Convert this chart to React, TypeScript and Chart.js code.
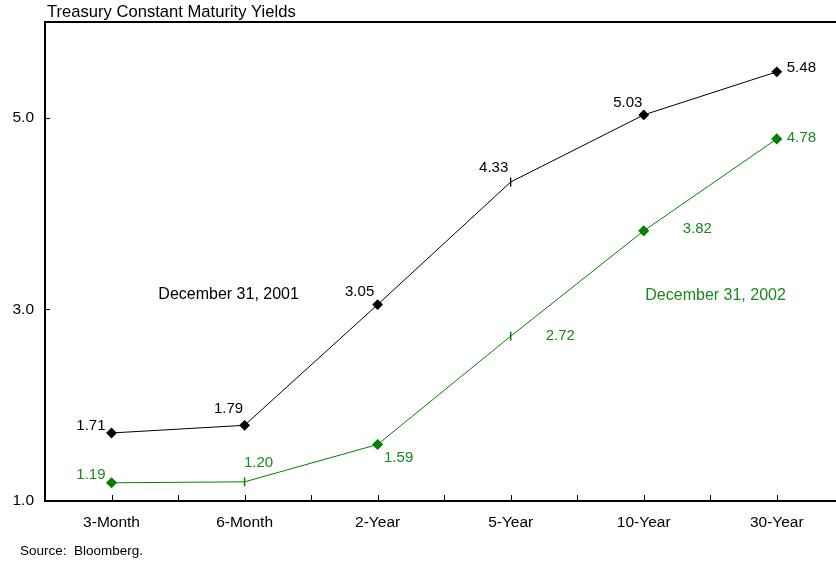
import React, { useEffect, useRef } from 'react';
import { Chart, registerables } from 'chart.js';

Chart.register(...registerables);

// ---------- data ----------
const categories = ['3-Month', '6-Month', '2-Year', '5-Year', '10-Year', '30-Year'];
const yields2001 = [1.71, 1.79, 3.05, 4.33, 5.03, 5.48];
const yields2002 = [1.19, 1.2, 1.59, 2.72, 3.82, 4.78];
const yTickValues = [1, 3, 5];
const seriesNames = ['December 31, 2001', 'December 31, 2002'];
const chartTitle = 'Treasury Constant Maturity Yields';
const sourceNote = 'Source:  Bloomberg.';

// ---------- styles ----------
const BLACK = '#000000';
const GREEN = '#008000';
const GREEN_TEXT = '#178a17';
const FONT = '"Liberation Sans", Arial, Helvetica, sans-serif';
const markers2001 = ['rectRot', 'rectRot', 'rectRot', 'line', 'rectRot', 'rectRot'];
const markers2002 = ['rectRot', 'line', 'rectRot', 'line', 'rectRot', 'rectRot'];
// label placement relative to its point: [dx, dy, align]
const labelPos2001: [number, number, CanvasTextAlign][] = [
  [-6, -7, 'right'], [-16, -16, 'center'], [-18, -13, 'center'],
  [-17, -14, 'center'], [-16, -12, 'center'], [10, -4, 'left'],
];
const labelPos2002: [number, number, CanvasTextAlign][] = [
  [-6, -8, 'right'], [14, -19, 'center'], [21, 13, 'center'],
  [35, 0, 'left'], [39, -2, 'left'], [10, -1, 'left'],
];
// series name anchors in data coordinates
const nameAnchorX = [0.88, 4.54];
const nameAnchorY = [3.15, 3.14];

const seriesValues = [yields2001, yields2002];

const decor = {
  id: 'decor',
  afterDatasetsDraw(chart: any) {
    const ctx = chart.ctx;
    ctx.save();
    ctx.font = `15px ${FONT}`;
    ctx.textBaseline = 'middle';
    const sets = [
      { pos: labelPos2001, color: BLACK },
      { pos: labelPos2002, color: GREEN_TEXT },
    ];
    sets.forEach((s, di) => {
      const meta = chart.getDatasetMeta(di);
      const vals = seriesValues[di];
      meta.data.forEach((pt: any, i: number) => {
        const [dx, dy, al] = s.pos[i];
        ctx.fillStyle = s.color;
        ctx.textAlign = al;
        ctx.fillText(vals[i].toFixed(2), pt.x + dx, pt.y + dy);
      });
    });
    // series names
    ctx.font = `16px ${FONT}`;
    ctx.textAlign = 'center';
    [BLACK, GREEN_TEXT].forEach((c, i) => {
      ctx.fillStyle = c;
      ctx.fillText(
        seriesNames[i],
        chart.scales.x.getPixelForValue(nameAnchorX[i]),
        chart.scales.y.getPixelForValue(nameAnchorY[i])
      );
    });
    ctx.restore();
  },
  afterDraw(chart: any) {
    const { ctx, chartArea: a, scales } = chart;
    ctx.save();
    ctx.strokeStyle = BLACK;
    ctx.lineWidth = 2;
    ctx.beginPath();
    ctx.moveTo(chart.width + 2, a.top);
    ctx.lineTo(a.left, a.top);
    ctx.lineTo(a.left, a.bottom);
    ctx.lineTo(chart.width + 2, a.bottom);
    ctx.stroke();
    ctx.lineWidth = 1;
    ctx.beginPath();
    for (let i = 0; i < categories.length * 2; i++) {
      const px = Math.round(scales.x.getPixelForValue(i / 2)) + 0.5;
      ctx.moveTo(px, a.bottom);
      ctx.lineTo(px, a.bottom - 6);
    }
    yTickValues.forEach((v) => {
      const py = Math.round(scales.y.getPixelForValue(v)) + 0.5;
      ctx.moveTo(a.left, py);
      ctx.lineTo(a.left + 5, py);
    });
    ctx.stroke();
    // title and source
    ctx.fillStyle = BLACK;
    ctx.textBaseline = 'middle';
    ctx.textAlign = 'left';
    ctx.font = `16.6px ${FONT}`;
    ctx.fillText(chartTitle, a.left + 2, 12);
    ctx.font = `13.5px ${FONT}`;
    ctx.fillText(sourceNote, 20, chart.height - 14);
    ctx.restore();
  },
};

export default function App() {
  const ref = useRef<HTMLCanvasElement | null>(null);
  useEffect(() => {
    if (!ref.current) return;
    const chart = new Chart(ref.current, {
      type: 'line',
      data: {
        datasets: [
          {
            label: seriesNames[0],
            data: yields2001.map((v, i) => ({ x: i, y: v })) as any,
            borderColor: BLACK,
            backgroundColor: BLACK,
            borderWidth: 1,
            pointStyle: markers2001 as any,
            pointRotation: markers2001.map((m) => (m === 'line' ? 90 : 0)),
            pointRadius: 4.5,
            pointBorderWidth: 1.3,
            pointBorderColor: BLACK,
            pointBackgroundColor: BLACK,
          },
          {
            label: seriesNames[1],
            data: yields2002.map((v, i) => ({ x: i, y: v })) as any,
            borderColor: GREEN,
            backgroundColor: GREEN,
            borderWidth: 1,
            pointStyle: markers2002 as any,
            pointRotation: markers2002.map((m) => (m === 'line' ? 90 : 0)),
            pointRadius: 4.5,
            pointBorderWidth: 1.5,
            pointBorderColor: GREEN,
            pointBackgroundColor: GREEN,
          },
        ],
      },
      options: {
        animation: false,
        responsive: false,
        devicePixelRatio: 1,
        layout: { padding: { top: 22, right: 0, bottom: 22, left: 0 } },
        plugins: { legend: { display: false }, tooltip: { enabled: false }, title: { display: false } },
        scales: {
          x: {
            type: 'linear',
            min: -0.5,
            max: 5.4,
            afterBuildTicks: (s: any) => {
              s.ticks = categories.map((_, i) => ({ value: i }));
            },
            afterFit: (s: any) => {
              s.height = 42;
            },
            ticks: {
              callback: (v: any) => categories[v as number] ?? '',
              font: { family: FONT, size: 15.5 },
              color: BLACK,
              padding: 12,
              maxRotation: 0,
              autoSkip: false,
            },
            grid: { display: false, drawTicks: false },
            border: { display: false },
          },
          y: {
            type: 'linear',
            min: 1,
            max: 6,
            afterBuildTicks: (s: any) => {
              s.ticks = yTickValues.map((v) => ({ value: v }));
            },
            afterFit: (s: any) => {
              s.width = 45;
            },
            ticks: {
              callback: (v: any) => Number(v).toFixed(1),
              font: { family: FONT, size: 15.5 },
              color: BLACK,
              padding: 11,
            },
            grid: { display: false, drawTicks: false },
            border: { display: false },
          },
        },
      },
      plugins: [decor],
    });
    return () => chart.destroy();
  }, []);
  return (
    <div style={{ position: 'absolute', left: 0, top: 0, width: 836, height: 565, background: '#fff' }}>
      <canvas ref={ref} width={836} height={565} style={{ width: 836, height: 565, display: 'block' }} />
    </div>
  );
}
